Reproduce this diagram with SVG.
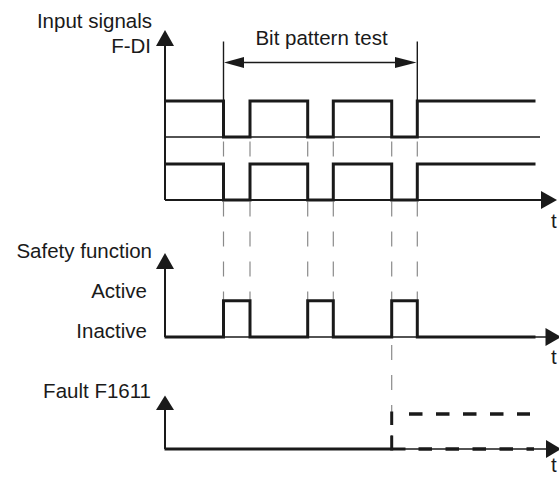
<svg xmlns="http://www.w3.org/2000/svg" width="559" height="478" viewBox="0 0 559 478">
<style>
text{font-family:"Liberation Sans",Arial,sans-serif;font-size:20.5px;fill:#1a1a1a}
.r{text-anchor:end}
.axis{stroke:#1a1a1a;stroke-width:2;fill:none}
.thin{stroke:#1a1a1a;stroke-width:1.4;fill:none}
.sig{stroke:#1a1a1a;stroke-width:3;fill:none;stroke-linejoin:miter;stroke-linecap:square}
.guide{stroke:#8a8a8a;stroke-width:1.2;fill:none;stroke-dasharray:15 15}
.fdash{stroke:#1a1a1a;stroke-width:3.5;fill:none;stroke-dasharray:13.5 13.5}
.head{fill:#1a1a1a}
</style>
<rect width="559" height="478" fill="#fff"/>
<g id="connectors">
<line class="guide" x1="223.5" y1="141.5" x2="223.5" y2="300"/>
<line class="guide" x1="250" y1="141.5" x2="250" y2="300"/>
<line class="guide" x1="307.7" y1="141.5" x2="307.7" y2="300"/>
<line class="guide" x1="333.3" y1="141.5" x2="333.3" y2="300"/>
<line class="guide" x1="391.7" y1="141.5" x2="391.7" y2="337"/>
<line class="guide" x1="417.3" y1="141.5" x2="417.3" y2="300"/>
<line class="guide" x1="391.7" y1="345" x2="391.7" y2="449"/>
</g>
<g id="input-axis">
<line class="axis" x1="165" y1="200" x2="165" y2="44"/>
<polygon class="head" points="165,30 156,46 174,46"/>
<line class="thin" x1="165" y1="137" x2="540" y2="137"/>
<line class="axis" x1="165" y1="200" x2="543" y2="200"/>
<polygon class="head" points="557,200 541,191 541,209"/>
<text x="551" y="228">t</text>
<text class="r" x="152" y="28">Input signals</text>
<text class="r" x="151" y="53">F-DI</text>
</g>
<g id="bit-pattern-test">
<line class="thin" x1="223.5" y1="41.5" x2="223.5" y2="101"/>
<line class="thin" x1="417.3" y1="41.5" x2="417.3" y2="101"/>
<line class="thin" x1="240" y1="62.5" x2="400" y2="62.5"/>
<polygon class="head" points="224,62.5 244,57 244,68"/>
<polygon class="head" points="416.5,62.5 395,57 395,68"/>
<text x="321.5" y="45" text-anchor="middle">Bit pattern test</text>
</g>
<g id="signal-1">
<polyline class="sig" points="166,101 223.5,101 223.5,137 250,137 250,101 307.7,101 307.7,137 333.3,137 333.3,101 391.7,101 391.7,137 417.3,137 417.3,101 534,101"/>
</g>
<g id="signal-2">
<polyline class="sig" points="166,164 223.5,164 223.5,200 250,200 250,164 307.7,164 307.7,200 333.3,200 333.3,164 391.7,164 391.7,200 417.3,200 417.3,164 534,164"/>
</g>
<g id="safety-function">
<line class="axis" x1="165" y1="337" x2="165" y2="267"/>
<polygon class="head" points="165,253 156,269 174,269"/>
<line class="thin" x1="165" y1="337" x2="548" y2="337"/>
<polygon class="head" points="561,337 545.5,328 545.5,346"/>
<polyline class="sig" points="166,337 223.5,337 223.5,300.7 250,300.7 250,337 307.7,337 307.7,300.7 333.3,300.7 333.3,337 391.7,337 391.7,300.7 417.3,300.7 417.3,337 534,337"/>
<text x="551" y="364">t</text>
<text class="r" x="152" y="258">Safety function</text>
<text class="r" x="147" y="298">Active</text>
<text class="r" x="147" y="338">Inactive</text>
</g>
<g id="fault">
<line class="axis" x1="165" y1="449" x2="165" y2="408"/>
<polygon class="head" points="165,395.5 156,410 174,410"/>
<line class="thin" x1="165" y1="449" x2="548" y2="449"/>
<polygon class="head" points="561,449 546,440 546,458"/>
<line class="sig" x1="166" y1="449" x2="404" y2="449"/>
<line class="fdash" x1="418.5" y1="449" x2="534" y2="449"/>
<line class="sig" x1="391.7" y1="413" x2="391.7" y2="423.5" stroke-linecap="butt"/>
<line class="sig" x1="391.7" y1="437" x2="391.7" y2="449" stroke-linecap="butt"/>
<line class="fdash" x1="409" y1="414" x2="530" y2="414"/>
<text x="551" y="472">t</text>
<text class="r" x="151" y="398">Fault F1611</text>
</g>
</svg>
